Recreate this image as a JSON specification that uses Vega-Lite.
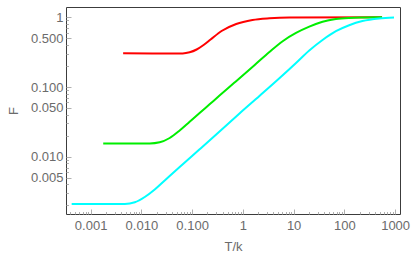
{
  "$schema": "https://vega.github.io/schema/vega-lite/v6.json",
  "width": 334,
  "height": 207,
  "autosize": {"type": "none"},
  "padding": {"left": 66, "top": 7, "right": 20, "bottom": 48},
  "background": "white",
  "config": {
    "view": {"stroke": "#3c3c3c", "strokeWidth": 1},
    "font": "Liberation Sans",
    "axis": {
      "labelFont": "Liberation Sans",
      "labelFontSize": 13,
      "labelColor": "#6b6b6b",
      "titleFont": "Liberation Sans",
      "titleFontSize": 13,
      "titleFontWeight": "normal",
      "titleColor": "#6b6b6b",
      "domain": false,
      "grid": false,
      "tickColor": "#b0b0b0",
      "tickWidth": 1,
      "labelOverlap": false,
      "labelFlush": false,
      "labelBound": false
    }
  },
  "data": {
    "values": [
      {"s": "red", "x": 0.00437, "y": 0.304},
      {"s": "red", "x": 0.06507, "y": 0.3034},
      {"s": "red", "x": 0.0893, "y": 0.31463},
      {"s": "red", "x": 0.12262, "y": 0.34512},
      {"s": "red", "x": 0.16822, "y": 0.40052},
      {"s": "red", "x": 0.23096, "y": 0.48032},
      {"s": "red", "x": 0.37978, "y": 0.63594},
      {"s": "red", "x": 0.73852, "y": 0.80147},
      {"s": "red", "x": 1.5441, "y": 0.91468},
      {"s": "red", "x": 3.3315, "y": 0.96751},
      {"s": "red", "x": 8.2313, "y": 0.99341},
      {"s": "red", "x": 553, "y": 1.0},
      {"s": "green", "x": 0.00177, "y": 0.01547},
      {"s": "green", "x": 0.01462, "y": 0.01547},
      {"s": "green", "x": 0.02298, "y": 0.01609},
      {"s": "green", "x": 0.03613, "y": 0.018546},
      {"s": "green", "x": 0.05681, "y": 0.023759},
      {"s": "green", "x": 0.0893, "y": 0.031678},
      {"s": "green", "x": 0.14042, "y": 0.042361},
      {"s": "green", "x": 0.22075, "y": 0.056462},
      {"s": "green", "x": 0.347, "y": 0.075282},
      {"s": "green", "x": 0.68392, "y": 0.11562},
      {"s": "green", "x": 1.6901, "y": 0.20548},
      {"s": "green", "x": 3.3315, "y": 0.31779},
      {"s": "green", "x": 6.0802, "y": 0.45405},
      {"s": "green", "x": 11.149, "y": 0.59533},
      {"s": "green", "x": 20.343, "y": 0.73297},
      {"s": "green", "x": 37.128, "y": 0.8619},
      {"s": "green", "x": 68.08, "y": 0.94539},
      {"s": "green", "x": 124.25, "y": 0.98037},
      {"s": "green", "x": 244.9, "y": 0.99341},
      {"s": "green", "x": 553, "y": 1.0},
      {"s": "cyan", "x": 0.000423, "y": 0.002096},
      {"s": "cyan", "x": 0.00472, "y": 0.002096},
      {"s": "cyan", "x": 0.00742, "y": 0.002217},
      {"s": "cyan", "x": 0.011662, "y": 0.002641},
      {"s": "cyan", "x": 0.018336, "y": 0.003383},
      {"s": "cyan", "x": 0.028828, "y": 0.004555},
      {"s": "cyan", "x": 0.05681, "y": 0.007117},
      {"s": "cyan", "x": 0.14042, "y": 0.01277},
      {"s": "cyan", "x": 0.347, "y": 0.022987},
      {"s": "cyan", "x": 0.85745, "y": 0.041667},
      {"s": "cyan", "x": 2.119, "y": 0.074296},
      {"s": "cyan", "x": 5.2369, "y": 0.13327},
      {"s": "cyan", "x": 11.149, "y": 0.22096},
      {"s": "cyan", "x": 20.343, "y": 0.33394},
      {"s": "cyan", "x": 37.128, "y": 0.47244},
      {"s": "cyan", "x": 68.08, "y": 0.63175},
      {"s": "cyan", "x": 124.25, "y": 0.77018},
      {"s": "cyan", "x": 226.8, "y": 0.88497},
      {"s": "cyan", "x": 482.9, "y": 0.96432},
      {"s": "cyan", "x": 952, "y": 0.99341}
    ]
  },
  "mark": {"type": "line", "strokeWidth": 2, "interpolate": "monotone", "clip": true},
  "encoding": {
    "x": {
      "field": "x",
      "type": "quantitative",
      "title": "T/k",
      "scale": {"type": "log", "domain": [0.000327, 1248], "nice": false},
      "axis": {
        "values": [0.0004, 0.0005, 0.0006, 0.0007, 0.0008, 0.0009, 0.001, 0.002, 0.003, 0.004, 0.005, 0.006, 0.007, 0.008, 0.009, 0.01, 0.02, 0.03, 0.04, 0.05, 0.06, 0.07, 0.08, 0.09, 0.1, 0.2, 0.3, 0.4, 0.5, 0.6, 0.7, 0.8, 0.9, 1, 2, 3, 4, 5, 6, 7, 8, 9, 10, 20, 30, 40, 50, 60, 70, 80, 90, 100, 200, 300, 400, 500, 600, 700, 800, 900, 1000],
        "labelExpr": "datum.value == 0.001 ? '0.001' : datum.value == 0.01 ? '0.010' : datum.value == 0.1 ? '0.100' : datum.value == 1 ? '1' : datum.value == 10 ? '10' : datum.value == 100 ? '100' : datum.value == 1000 ? '1000' : ''",
        "tickSize": {"condition": {"test": "indexof([0.001, 0.01, 0.1, 1, 10, 100, 1000], datum.value) >= 0", "value": -5}, "value": -2.5},
        "labelPadding": 10,
        "titlePadding": 6
      }
    },
    "y": {
      "field": "y",
      "type": "quantitative",
      "title": "F",
      "scale": {"type": "log", "domain": [0.001507, 1.405], "nice": false},
      "axis": {
        "values": [0.002, 0.003, 0.004, 0.005, 0.006, 0.007, 0.008, 0.009, 0.01, 0.02, 0.03, 0.04, 0.05, 0.06, 0.07, 0.08, 0.09, 0.1, 0.2, 0.3, 0.4, 0.5, 0.6, 0.7, 0.8, 0.9, 1],
        "labelExpr": "datum.value == 0.005 ? '0.005' : datum.value == 0.01 ? '0.010' : datum.value == 0.05 ? '0.050' : datum.value == 0.1 ? '0.100' : datum.value == 0.5 ? '0.500' : datum.value == 1 ? '1' : ''",
        "tickSize": {"condition": {"test": "indexof([0.005, 0.01, 0.05, 0.1, 0.5, 1], datum.value) >= 0", "value": -5}, "value": -2.5},
        "labelPadding": 8,
        "titlePadding": 10
      }
    },
    "color": {
      "field": "s",
      "type": "nominal",
      "scale": {"domain": ["red", "green", "cyan"], "range": ["#ff0000", "#00ee00", "#00ffff"]},
      "legend": null
    }
  }
}
